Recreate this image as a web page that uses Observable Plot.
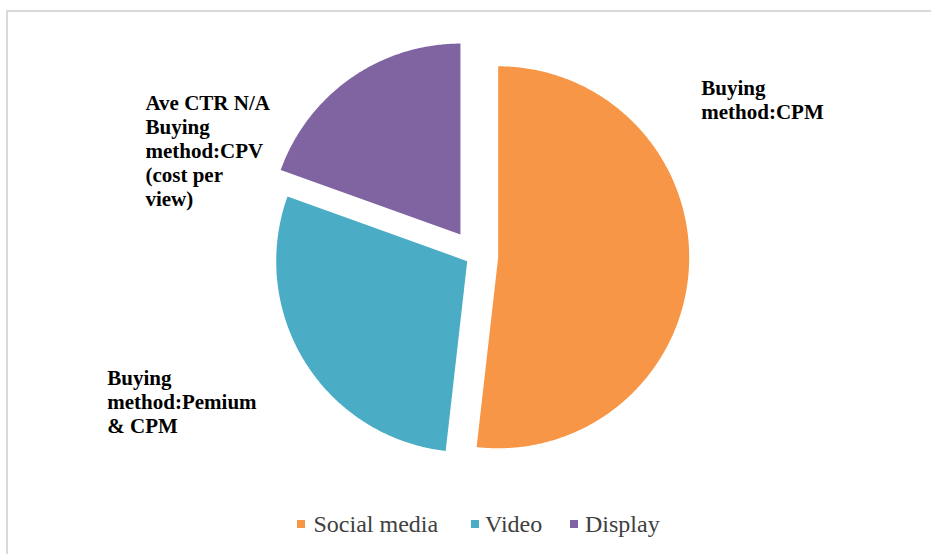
<!DOCTYPE html>
<html><head><meta charset="utf-8">
<script src="https://cdn.jsdelivr.net/npm/d3@7"></script>
<script src="https://cdn.jsdelivr.net/npm/@observablehq/plot@0.6"></script>
<style>
html,body{margin:0;padding:0;background:#fff;overflow:hidden;width:931px;height:554px;}
#frame{position:absolute;left:6px;top:10px;width:2000px;height:2000px;border-left:2px solid #d9d9d9;border-top:2px solid #d9d9d9;pointer-events:none;z-index:2;}
#chart svg{display:block;}
#legend{position:relative;height:45px;font-family:"Liberation Serif","Times New Roman",serif;font-size:24px;line-height:30px;color:#404040;}
.sw{position:absolute;top:11px;width:8px;height:8px;}
.tx{position:absolute;top:0;white-space:nowrap;font-family:"Liberation Serif",serif;}
</style></head><body>
<div id="frame"></div>
<div id="chart"></div>
<div id="legend"></div>
<script>
// ---- data ----
const categories = ["Social media", "Video", "Display"];
const shares = [51.8, 28.7, 19.5];
const sliceLabels = ["Buying\nmethod:CPM", "Buying\nmethod:Pemium\n& CPM", "Ave CTR N/A\nBuying\nmethod:CPV\n(cost per\nview)"];
const colors = ["#F79646", "#4BACC6", "#8064A2"];

// ---- layout (radius units relative to pie centre) ----
const W = 931, H = 509, R = 191, CX = 475, CY = 255.5;
const explode = [0.119, 0.051, 0.137];
const labelAnchor = [[1.182, 0.933], [-1.928, -0.585], [-1.728, 0.854]];
const legendSwatchX = [297, 471, 570];
const legendTextX = [313.5, 485, 585];

const arcs = d3.pie().sort(null).value(d => d)(shares);
const pts = [];
arcs.forEach((a, i) => {
  const cat = categories[i];
  const mid = (a.startAngle + a.endAngle) / 2;
  const ox = explode[i] * Math.sin(mid), oy = explode[i] * Math.cos(mid);
  pts.push({cat, x: ox, y: oy});
  const n = Math.max(2, Math.ceil((a.endAngle - a.startAngle) / (Math.PI / 360)));
  for (let k = 0; k <= n; k++) {
    const t = a.startAngle + (a.endAngle - a.startAngle) * k / n;
    pts.push({cat, x: ox + Math.sin(t), y: oy + Math.cos(t)});
  }
});
const labelData = categories.map((c, i) => ({cat: c, text: sliceLabels[i], x: labelAnchor[i][0], y: labelAnchor[i][1]}));

const chart = Plot.plot({
  width: W, height: H, margin: 0,
  style: {background: "transparent"},
  x: {domain: [-CX / R, (W - CX) / R], axis: null},
  y: {domain: [(CY - H) / R, CY / R], axis: null},
  color: {domain: categories, range: colors},
  marks: [
    Plot.line(pts, {x: "x", y: "y", z: "cat", fill: "cat", stroke: "none", curve: "linear-closed"}),
    Plot.text(labelData, {x: "x", y: "y", text: "text", textAnchor: "start", lineAnchor: "top",
      lineHeight: 1.143, fontSize: 21, fontWeight: "bold", fontFamily: "Liberation Serif", fill: "#000"})
  ]
});
document.getElementById("chart").appendChild(chart);

const lg = document.getElementById("legend");
categories.forEach((c, i) => {
  const sw = document.createElement("span"); sw.className = "sw";
  sw.style.background = colors[i]; sw.style.left = legendSwatchX[i] + "px";
  const tx = document.createElement("span"); tx.className = "tx";
  tx.style.left = legendTextX[i] + "px"; tx.textContent = c;
  lg.appendChild(sw); lg.appendChild(tx);
});
</script>
</body></html>
